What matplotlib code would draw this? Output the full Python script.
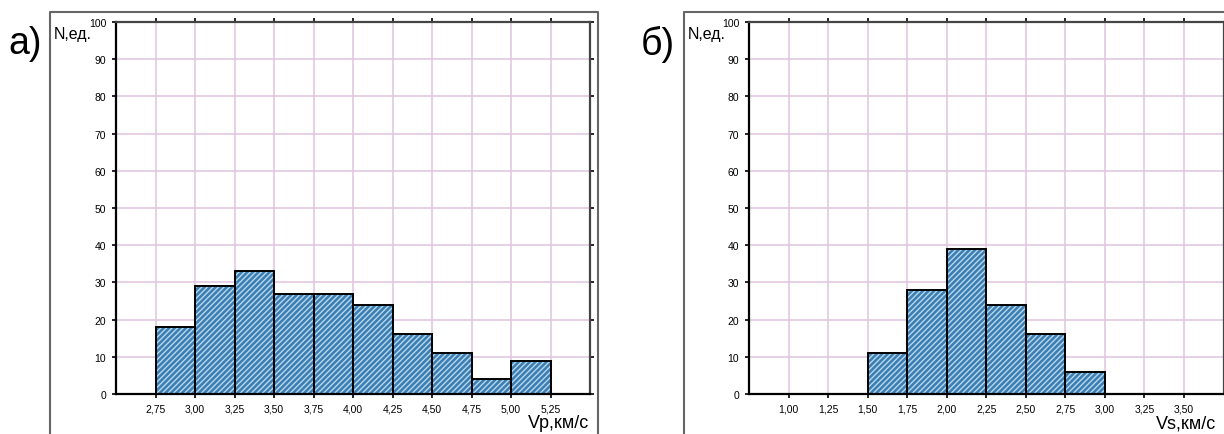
import matplotlib
matplotlib.use("Agg")
import matplotlib.pyplot as plt
from matplotlib.lines import Line2D

plt.rcParams['font.family'] = ['Liberation Sans', 'DejaVu Sans']
plt.rcParams['hatch.linewidth'] = 1.0

# Data
vp_edges = [2.75, 3.00, 3.25, 3.50, 3.75, 4.00, 4.25, 4.50, 4.75, 5.00]
vp_counts = [18, 29, 33, 27, 27, 24, 16, 11, 4, 9]
vp_ticks = [2.75, 3.00, 3.25, 3.50, 3.75, 4.00, 4.25, 4.50, 4.75, 5.00, 5.25]
vp_ticklabels = ["2,75", "3,00", "3,25", "3,50", "3,75", "4,00", "4,25", "4,50", "4,75", "5,00", "5,25"]

vs_edges = [1.50, 1.75, 2.00, 2.25, 2.50, 2.75]
vs_counts = [11, 28, 39, 24, 16, 6]
vs_ticks = [1.00, 1.25, 1.50, 1.75, 2.00, 2.25, 2.50, 2.75, 3.00, 3.25, 3.50]
vs_ticklabels = ["1,00", "1,25", "1,50", "1,75", "2,00", "2,25", "2,50", "2,75", "3,00", "3,25", "3,50"]

y_ticks = [0, 10, 20, 30, 40, 50, 60, 70, 80, 90, 100]
bin_width = 0.25

W, H = 1224, 435
fig = plt.figure(figsize=(W / 100, H / 100), dpi=100)

grid_color = '#e0c4e0'
bar_face = '#3d7db0'
hatch_col = '#b4d8f0'


def panel(rect, edges, counts, ticks, ticklabels, xlim, xlabel, xlabel_pos):
    ax = fig.add_axes(rect)
    ax.set_xlim(*xlim)
    ax.set_ylim(0, 100)
    ax.bar(edges, counts, width=bin_width, align='edge', color=bar_face,
           edgecolor=hatch_col, hatch='//////', linewidth=0, zorder=2)
    ax.bar(edges, counts, width=bin_width, align='edge', fill=False,
           edgecolor='black', linewidth=1.4, zorder=3)
    ax.set_xticks(ticks)
    ax.set_xticklabels(ticklabels, fontsize=7.5)
    ax.set_yticks(y_ticks)
    ax.set_yticklabels([str(v) for v in y_ticks], fontsize=7.5)
    ax.set_axisbelow(True)
    ax.tick_params(axis='both', length=3, width=1.2, color='black', pad=4,
                   top=True, right=True, direction='out')
    ax.tick_params(axis='x', labeltop=False)
    ax.tick_params(axis='y', labelright=False)
    ax.grid(True, which='major', axis='both', color=grid_color,
            linewidth=1.1, zorder=0)
    ax.tick_params(axis='both', grid_color=grid_color, grid_linewidth=1.1)
    for s in ['left', 'bottom']:
        ax.spines[s].set_linewidth(1.6)
        ax.spines[s].set_color('black')
    for s in ['top', 'right']:
        ax.spines[s].set_linewidth(1.6)
        ax.spines[s].set_color('#444444')
    fig.text(xlabel_pos[0] / W, 1 - xlabel_pos[1] / H, xlabel, fontsize=13,
             ha='right', va='center')
    return ax


panel([116 / W, 1 - 395 / H, (590 - 116) / W, (395 - 23) / H],
      vp_edges, vp_counts, vp_ticks, vp_ticklabels, (2.5, 5.5),
      "Vp,км/с", (589, 424))
panel([749 / W, 1 - 395 / H, (1223.5 - 749) / W, (395 - 23) / H],
      vs_edges, vs_counts, vs_ticks, vs_ticklabels, (0.75, 3.75),
      "Vs,км/с", (1216, 424))

# outer frames
fc = '#666666'
def fline(xs, ys):
    fig.add_artist(Line2D([x / W for x in xs], [1 - y / H for y in ys],
                          transform=fig.transFigure, color=fc, linewidth=1.5))

fline([50, 50, 598, 598], [H + 5, 13, 13, H + 5])
fline([684, 684, W + 5], [H + 5, 13, 13])

# panel labels
fig.text(8 / W, 1 - 44 / H, "а)", fontsize=27, ha='left', va='center')
fig.text(641 / W, 1 - 44 / H, "б)", fontsize=27, ha='left', va='center')
fig.text(54 / W, 1 - 35 / H, "N,ед.", fontsize=11.5, ha='left', va='center')
fig.text(688 / W, 1 - 35 / H, "N,ед.", fontsize=11.5, ha='left', va='center')

fig.savefig("out.png", dpi=100)
